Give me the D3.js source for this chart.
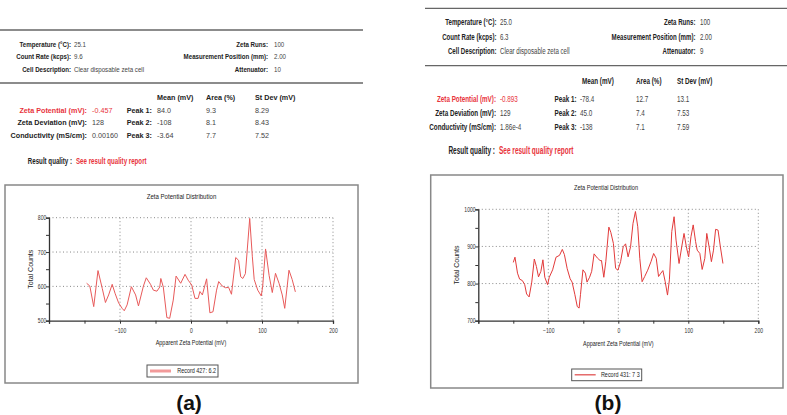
<!DOCTYPE html>
<html><head><meta charset="utf-8">
<script src="https://cdn.jsdelivr.net/npm/d3@7"></script>
<style>
body{margin:0;background:#fff}
svg{display:block}
text{font-family:"Liberation Sans",Arial,sans-serif}
</style>
</head><body>
<svg id="c" width="787" height="415"></svg>
<script>
// ---------- data ----------
const aZeta=[-147,-142.5,-137,-131,-125,-120.5,-116,-111,-107,-102,-97,-94,-90,-84,-78,-74,-67,-63,-57,-53,-48,-44,-42.5,-39,-34,-30,-25,-21,-14.5,-8.4,-4,1,5.6,10,12.6,16,22,26.6,31,36,39,44,48.6,53,57,63,67,70,73,76.6,82.7,86.4,89,94,99,101,105,110,114.5,119,124,128.5,132,138,142.5,147];
const aCounts=[609,601,541,646,594,553,575,606,580,552,536,529,546,599,575,543,601,625,606,589,586,598,623,598,509,507,560,630,609,635,618,604,565,565,585,575,622,523,526,589,614,601,596,597,577,684,676,628,623,637,798,686,620,589,572,601,709,632,582,638,609,575,536,647,620,584];
const bZeta=[-150,-147.6,-144,-141,-137,-133.7,-131,-127.4,-123.6,-120,-117,-114,-110.6,-107.7,-105,-101,-98.6,-93.8,-89,-84,-80,-77,-73,-68.8,-66,-62,-58.6,-56,-54,-50.5,-47,-44.7,-41,-38,-34.6,-30,-26,-24,-20.7,-17.8,-13.5,-10.7,-7,-3.8,-0.5,3.3,7,10.4,14,17.5,21,24.5,27.8,30.7,34,37.7,42,46.7,50.5,54.2,57.5,60.8,63.7,67,70.3,73,76.4,79.7,82.5,86.8,90.6,93.9,97.6,100.5,103.8,107,110.4,112.7,116.5,119.8,123.6,126.4,129.7,133,136,139,142.5,145.8,149.5];
const bCounts=[857,871,828,812,808,797,772,764,804,866,846,818,833,864,817,797,817,837,871,876,892,878,840,813,804,770,738,734,771,837,828,804,817,833,880,869,862,862,817,860,952,938,908,841,836,859,899,907,872,899,962,994,953,868,805,819,836,859,881,868,819,828,835,805,769,810,940,980,917,854,899,935,895,872,926,958,913,890,881,838,868,935,899,859,890,946,944,899,854];

const xTicks=[-100,0,100,200];
const xMinor=[-150,-50,50,150];
const aYTicks=[500,600,700,800];
const aYMinor=[550,650,750];
const bYTicks=[700,800,900,1000];
const bYMinor=[750,850,950];

const infoLabelsL=["Temperature (°C):","Count Rate (kcps):","Cell Description:"];
const infoLabelsR=["Zeta Runs:","Measurement Position (mm):","Attenuator:"];
const aInfoL=["25.1","9.6","Clear disposable zeta cell"];
const aInfoR=["100","2.00","10"];
const bInfoL=["25.0","6.3","Clear disposable zeta cell"];
const bInfoR=["100","2.00","9"];
const resLabels=["Zeta Potential (mV):","Zeta Deviation (mV):","Conductivity (mS/cm):"];
const aRes=["-0.457","128","0.00160"];
const bRes=["-0.893","129","1.86e-4"];
const peakLabels=["Peak 1:","Peak 2:","Peak 3:"];
const colHeads=["Mean (mV)","Area (%)","St Dev (mV)"];
const aMean=["84.0","-108","-3.64"], aArea=["9.3","8.1","7.7"], aSd=["8.29","8.43","7.52"];
const bMean=["-78.4","45.0","-138"], bArea=["12.7","7.4","7.1"], bSd=["13.1","7.53","7.59"];
const chartTitle="Zeta Potential Distribution";
const xTitle="Apparent Zeta Potential (mV)";
const yTitle="Total Counts";
const aLegend="Record 427: 6.2";
const bLegend="Record 431: 7 3";
const panelLabels=["(a)","(b)"];

// ---------- drawing ----------
const svg=d3.select("#c");
const RED="#e8343c";

function T(g,x,y,s,o){
  return g.append("text").attr("transform",`translate(${x},${y}) scale(${o.sx||1},1)`).attr("dy","0.35em")
    .attr("text-anchor",o.anchor||"start").attr("font-size",o.fs).attr("font-weight",o.bold?"bold":"normal")
    .attr("fill",o.col||"#222").text(s);
}

function header(g,c,d){
  [c.top,c.sep].forEach(yy=>g.append("line").attr("x1",c.lx0).attr("x2",c.lx1).attr("y1",yy).attr("y2",yy)
    .attr("stroke","#666").attr("stroke-width",1.3));
  const I={fs:c.fs,sx:c.sxI}, R={fs:c.fs,sx:c.sxR};
  infoLabelsL.forEach((s,i)=>{
    T(g,c.labR,c.rows[i],s,{...I,anchor:"end",bold:true});
    T(g,c.valX,c.rows[i],d.infoL[i],{...I,col:"#444"});
    T(g,c.rLabR,c.rows[i],infoLabelsR[i],{...I,anchor:"end",bold:true});
    T(g,c.rValX,c.rows[i],d.infoR[i],{...I,col:"#444"});
  });
  colHeads.forEach((s,i)=>T(g,c.heads[i],c.head,s,{...R,bold:true}));
  resLabels.forEach((s,i)=>{
    const red=i===0;
    T(g,c.rlabR,c.res[i],s,{...R,anchor:"end",bold:true,col:red?RED:"#222"});
    T(g,c.rvalX,c.res[i],d.res[i],{...R,col:red?RED:"#444"});
    T(g,c.peakR,c.res[i],peakLabels[i],{...R,anchor:"end",bold:true});
    T(g,c.cols[0],c.res[i],d.mean[i],{...R,col:"#444"});
    T(g,c.cols[1],c.res[i],d.area[i],{...R,col:"#444"});
    T(g,c.cols[2],c.res[i],d.sd[i],{...R,col:"#444"});
  });
  T(g,c.rqR,c.rq,"Result quality :",{fs:c.rqFs,sx:c.sxQ,anchor:"end",bold:true});
  T(g,c.rqR+4,c.rq,"See result quality report",{fs:c.rqFs,sx:c.sxQ,bold:true,col:RED});
}

function chart(g,c,d){
  g.append("rect").attr("x",c.box[0]).attr("y",c.box[1]).attr("width",c.box[2]-c.box[0]).attr("height",c.box[3]-c.box[1])
    .attr("fill","#fff").attr("stroke","#888").attr("stroke-width",1.5);
  const x=d3.scaleLinear().domain([-200,200]).range([c.px0,c.px1]);
  const y=d3.scaleLinear().domain(d.yDom).range([c.py1,c.py0]);
  g.selectAll(null).data(d.yTicks.slice(1)).enter().append("line")
    .attr("x1",c.px0).attr("x2",c.px1).attr("y1",v=>y(v)).attr("y2",v=>y(v))
    .attr("stroke","#888").attr("stroke-width",1).attr("stroke-dasharray","1,2.5");
  g.selectAll(null).data(xTicks).enter().append("line")
    .attr("x1",v=>x(v)).attr("x2",v=>x(v)).attr("y1",c.py0).attr("y2",c.py1)
    .attr("stroke","#888").attr("stroke-width",1).attr("stroke-dasharray","1,2.5");
  const ax=g.append("g").attr("transform",`translate(0,${c.py1})`)
    .call(d3.axisBottom(x).tickValues(xTicks.concat(xMinor).concat([-200])).tickSize(3).tickFormat(v=>xTicks.includes(v)?d3.format("d")(v):""));
  const ay=g.append("g").attr("transform",`translate(${c.px0},0)`)
    .call(d3.axisLeft(y).tickValues(d.yTicks.concat(d.yMinor)).tickSize(3).tickFormat(v=>d.yTicks.includes(v)?d3.format("d")(v):""));
  [ax,ay].forEach(a=>{
    a.select(".domain").attr("stroke","#333").attr("stroke-width",1.3);
    a.selectAll(".tick line").attr("stroke","#333");
    a.selectAll("text").attr("font-size",c.tickFs).attr("fill","#333").attr("transform",`scale(${c.sxC},1)`)
      .style("font-family","'Liberation Sans',Arial,sans-serif");
  });
  ax.selectAll("text").attr("dy","1em");
  ay.selectAll("text").attr("x",-3.5);
  const pts=d.zeta.map((v,i)=>[v,d.counts[i]]);
  g.append("path").datum(pts).attr("fill","none").attr("stroke",d.color).attr("stroke-width",1)
    .attr("d",d3.line().x(p=>x(p[0])).y(p=>y(p[1])));
  T(g,c.titleX,c.titleY,chartTitle,{fs:c.cfs,sx:c.sxT,anchor:"middle"});
  T(g,x(0),c.xtY,xTitle,{fs:c.cfs,sx:c.sxC,anchor:"middle"});
  g.append("text").attr("transform",`translate(${c.ytX},${(c.py0+c.py1)/2}) rotate(-90)`).attr("text-anchor","middle").attr("dy","0.35em")
    .attr("font-size",c.cfs).attr("fill","#222").text(yTitle);
  const L=c.leg;
  g.append("rect").attr("x",L[0]).attr("y",L[1]).attr("width",L[2]-L[0]).attr("height",L[3]-L[1])
    .attr("fill","#fff").attr("stroke","#555").attr("stroke-width",1);
  g.append("line").attr("x1",L[0]+3).attr("x2",L[0]+c.legLine).attr("y1",(L[1]+L[3])/2).attr("y2",(L[1]+L[3])/2)
    .attr("stroke",d.legColor).attr("stroke-width",d.legW);
  T(g,L[2]-2,(L[1]+L[3])/2,d.legend,{fs:c.cfs,sx:c.sxC,anchor:"end"});
}

const A={lx0:0,lx1:363,top:30,rows:[44,56,69],sep:83,head:97,res:[110,122.5,135],rq:161,
  labR:71,valX:74,rLabR:268,rValX:274,rlabR:87,rvalX:92,peakR:152,heads:[157,206,255],cols:[157,206,255],
  rqR:72,fs:8,sxI:0.77,sxR:0.9,rqFs:9.5,sxQ:0.65,
  box:[5,185,358,383],px0:49,px1:333,py0:217.7,py1:320.7,titleX:181.5,titleY:196.7,xtY:343,ytX:31,
  cfs:7,tickFs:6.5,sxC:0.78,sxT:0.87,leg:[147,365,218,377],legLine:24};
const B={lx0:425,lx1:787,top:8.3,rows:[21.7,36.7,50.7],sep:65.7,head:80.7,res:[99,112.5,127],rq:150,
  labR:496.5,valX:500,rLabR:695.5,rValX:700,rlabR:496,rvalX:500,peakR:576.5,heads:[582,636,677],cols:[580,636,677],
  rqR:495,fs:9,sxI:0.68,sxR:0.7,rqFs:10.5,sxQ:0.62,
  box:[430.7,175,783,388],px0:478.3,px1:758.3,py0:209.3,py1:320.7,titleX:606,titleY:187.3,xtY:344,ytX:456.7,
  cfs:7,tickFs:6.5,sxC:0.78,sxT:0.8,leg:[571.7,369,641.7,380.7],legLine:24};

const gA=svg.append("g"), gB=svg.append("g");
header(gA,A,{infoL:aInfoL,infoR:aInfoR,res:aRes,mean:aMean,area:aArea,sd:aSd});
header(gB,B,{infoL:bInfoL,infoR:bInfoR,res:bRes,mean:bMean,area:bArea,sd:bSd});
chart(gA,A,{zeta:aZeta,counts:aCounts,yDom:[500,800],yTicks:aYTicks,yMinor:aYMinor,color:"#e85a5a",legColor:"#f29a9a",legW:3,legend:aLegend});
chart(gB,B,{zeta:bZeta,counts:bCounts,yDom:[700,1000],yTicks:bYTicks,yMinor:bYMinor,color:"#e23a3a",legColor:"#d82020",legW:1,legend:bLegend});

svg.append("text").attr("x",189).attr("y",410).attr("text-anchor","middle").attr("font-size",21).attr("font-weight","bold")
  .attr("fill","#111").text(panelLabels[0]);
svg.append("text").attr("x",608).attr("y",410).attr("text-anchor","middle").attr("font-size",21).attr("font-weight","bold")
  .attr("fill","#111").text(panelLabels[1]);
</script>
</body></html>
